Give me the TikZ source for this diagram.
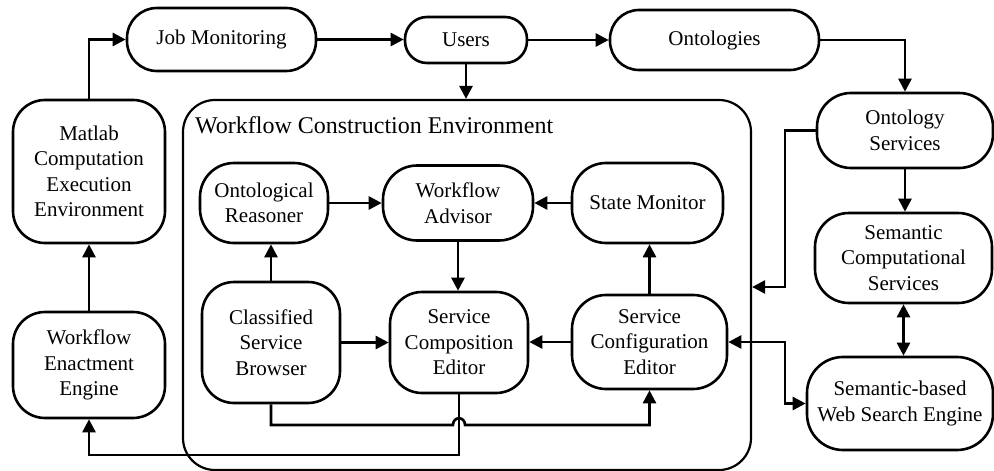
\documentclass[tikz,border=0pt]{standalone}
\usepackage{fontspec}
\setmainfont{Liberation Serif}
\usetikzlibrary{arrows.meta}
\begin{document}
\begin{tikzpicture}[x=1pt,y=-1pt,
  box/.style={draw, line width=2.6pt, rounded corners=28pt, align=center, inner sep=0pt,
    font=\fontsize{21}{25.5}\selectfont},
  arr/.style={line width=2.6pt, -{Triangle[length=13pt,width=13pt]}},
  darr/.style={line width=2.6pt, {Triangle[length=13pt,width=13pt]}-{Triangle[length=13pt,width=13pt]}},
  ]
\useasboundingbox (0,0) rectangle (994,471);
% environment frame
\node[draw, line width=2.2pt, rounded corners=32pt, minimum width=568pt, minimum height=370pt, inner sep=0pt] (wce) at (467,285) {};
\node[anchor=base west, inner sep=0pt, font=\fontsize{24}{28}\selectfont] (wcet) at (195,133) {Workflow Construction Environment};
% nodes
\node[box, minimum width=189pt, minimum height=63pt, rounded corners=30pt] (job) at (221.5,39.5) {Job Monitoring};
\node[box, minimum width=122pt, minimum height=46pt, rounded corners=22pt] (users) at (466,40) {Users};
\node[box, minimum width=209pt, minimum height=60pt, rounded corners=29pt] (onto) at (714.5,40) {Ontologies};
\node[box, minimum width=176pt, minimum height=75pt, rounded corners=34pt] (os) at (905,130.5) {Ontology\\Services};
\node[box, minimum width=177pt, minimum height=90pt, rounded corners=34pt] (scs) at (903.5,258) {Semantic\\Computational\\Services};
\node[box, minimum width=186pt, minimum height=93pt, rounded corners=36pt] (swse) at (900,403.5) {Semantic-based\\Web Search Engine};
\node[box, minimum width=152pt, minimum height=143pt, rounded corners=32pt] (matlab) at (89,171.5) {Matlab\\Computation\\Execution\\Environment};
\node[box, minimum width=152pt, minimum height=106pt, rounded corners=32pt] (wee) at (89,365) {Workflow\\Enactment\\Engine};
\node[box, minimum width=128pt, minimum height=80pt, rounded corners=34pt] (or) at (264,203) {Ontological\\Reasoner};
\node[box, minimum width=150pt, minimum height=75pt, rounded corners=34pt] (wa) at (458,203) {Workflow\\Advisor};
\node[box, minimum width=151pt, minimum height=80pt, rounded corners=34pt] (sm) at (647.5,203) {State Monitor};
\node[box, minimum width=138pt, minimum height=121pt, rounded corners=32pt] (csb) at (271,342.5) {Classified\\Service\\Browser};
\node[box, minimum width=138pt, minimum height=101pt, rounded corners=32pt] (sce2) at (459,342.5) {Service\\Composition\\Editor};
\node[box, minimum width=155pt, minimum height=94pt, rounded corners=34pt] (sce) at (649.5,342) {Service\\Configuration\\Editor};
% helper coordinates
\coordinate (c1) at (785,287);
\coordinate (c2) at (785,370);
\coordinate (c3) at (200,455);
\coordinate (hl) at (453,425);
\coordinate (hr) at (465,425);
% connectors
\draw[arr] (matlab.north) |- (job.west);
\draw[arr] (job.east) -- (job.east -| users.west);
\draw[arr] (users.east) -- (users.east -| onto.west);
\draw[arr] (onto.east) -| (os.north);
\draw[arr] (users.south) -- (users.south |- wce.north);
\draw[arr] (os.west) -| (c1) -- (c1 -| wce.east);
\draw[arr] (os.south) -- (os.south |- scs.north);
\draw[darr] (scs.south) -- (scs.south |- swse.north);
\draw[darr] (sce.east) -| (c2) |- (swse.west);
\draw[arr] (wee.north) -- (wee.north |- matlab.south);
\draw[arr] (or.east) -- (or.east -| wa.west);
\draw[arr] (sm.west) -- (sm.west -| wa.east);
\draw[arr] (wa.south) -- (wa.south |- sce2.north);
\draw[arr] (csb.north) -- (csb.north |- or.south);
\draw[arr] (sce.north) -- (sce.north |- sm.south);
\draw[arr] (csb.east) -- (csb.east -| sce2.west);
\draw[arr] (sce.west) -- (sce.west -| sce2.east);
\draw[arr] (sce2.south) |- (c3) -| (wee.south);
\draw[arr] (csb.south) |- (hl) .. controls (453,416) and (465,416) .. (hr) -| (sce.south);
\end{tikzpicture}
\end{document}
